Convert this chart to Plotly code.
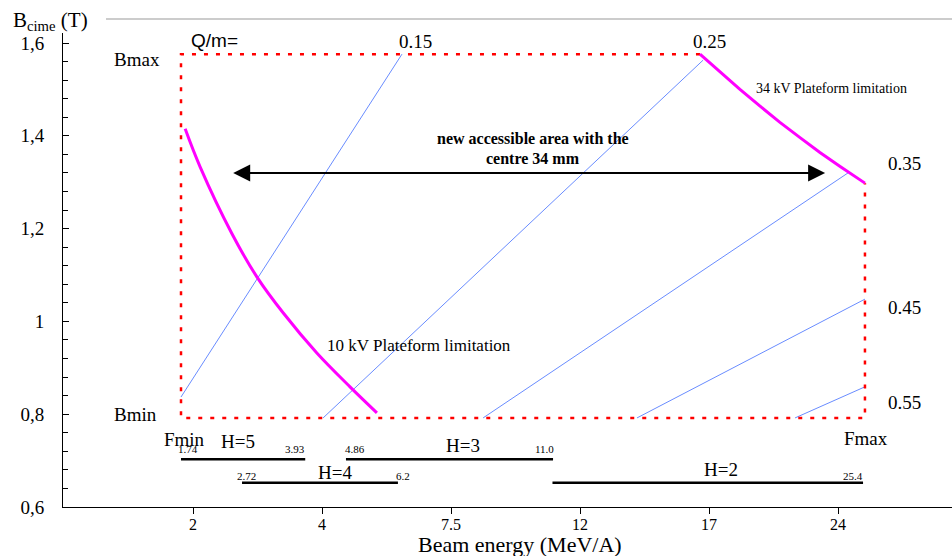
import plotly.graph_objects as go

# ---- axis scale (energy -> axis position), tick labels ----
E_KNOTS = [1.74, 2, 4, 7.5, 12, 17, 24, 25.4]
U_KNOTS = [0.907, 1, 2, 3, 4, 5, 6, 6.209]
x_tick_labels = ["2", "4", "7.5", "12", "17", "24"]
x_tick_energies = [2, 4, 7.5, 12, 17, 24]


def e2u(E):
    if isinstance(E, (list, tuple)):
        return [e2u(v) for v in E]
    for i in range(len(E_KNOTS) - 1):
        e0, e1 = E_KNOTS[i], E_KNOTS[i + 1]
        if E <= e1 or i == len(E_KNOTS) - 2:
            u0, u1 = U_KNOTS[i], U_KNOTS[i + 1]
            return u0 + (E - e0) * (u1 - u0) / (e1 - e0)


# ---- data ----
qm_labels = ["0.15", "0.25", "0.35", "0.45", "0.55"]
qm_E_start = [1.74, 4.03, 8.62, 14.21, 21.67]
qm_B_start = [0.837, 0.792, 0.792, 0.792, 0.792]
qm_E_end = [6.17, 16.77, 24.52, 25.4, 25.4]
qm_B_end = [1.576, 1.563, 1.320, 1.048, 0.859]

E_min, E_max = 1.74, 25.4
B_min, B_max = 0.792, 1.576

lim34_E = [16.65, 17.60, 18.68, 19.77, 20.85, 21.94, 23.02, 24.11, 25.4]
lim34_B = [1.576, 1.537, 1.500, 1.464, 1.429, 1.396, 1.364, 1.334, 1.298]

lim10_E = [1.83, 2.11, 2.60, 2.99, 3.40, 3.92, 4.76, 5.49]
lim10_B = [1.415, 1.333, 1.19, 1.096, 1.018, 0.932, 0.859, 0.803]

harm_labels = ["H=5", "H=4", "H=3", "H=2"]
harm_E_start = [1.74, 2.76, 4.65, 11.04]
harm_E_end = [3.74, 6.06, 11.06, 25.3]
harm_B = [0.703, 0.652, 0.703, 0.652]

arrow_E = [2.60, 23.30]
arrow_B = 1.320

SERIF = "Liberation Serif"
SANS = "Liberation Sans"

fig = go.Figure()

# Q/m lines
for i in range(len(qm_labels)):
    fig.add_trace(go.Scatter(
        x=e2u([qm_E_start[i], qm_E_end[i]]), y=[qm_B_start[i], qm_B_end[i]],
        mode="lines", line=dict(color="rgb(105,140,255)", width=1),
        showlegend=False, hoverinfo="skip"))

# red dotted boundary
fig.add_trace(go.Scatter(
    x=e2u([lim34_E[0], E_min, E_min, E_max, E_max]),
    y=[B_max, B_max, B_min, B_min, lim34_B[-1]],
    mode="lines", line=dict(color="red", width=2.5, dash="4px,8px"),
    showlegend=False, hoverinfo="skip"))

# magenta limitations
fig.add_trace(go.Scatter(x=e2u(lim34_E), y=lim34_B, mode="lines",
                         line=dict(color="#ff00ff", width=3),
                         showlegend=False, hoverinfo="skip"))
fig.add_trace(go.Scatter(x=e2u(lim10_E), y=lim10_B, mode="lines",
                         line=dict(color="#ff00ff", width=3, shape="spline"),
                         showlegend=False, hoverinfo="skip"))

# harmonic bars
for i in range(len(harm_labels)):
    fig.add_trace(go.Scatter(
        x=e2u([harm_E_start[i], harm_E_end[i]]), y=[harm_B[i], harm_B[i]],
        mode="lines", line=dict(color="black", width=2.5),
        showlegend=False, hoverinfo="skip"))

# ---- annotations (positioned in pixels, converted to paper) ----
L, T, W, H = 63, 33, 889, 474


def px(x):
    return (x - L) / W


def py(y):
    return (T + H - y) / H


anns = []


def text(t, x, y, size, font=SERIF, xanchor="center", bold=False):
    if bold:
        t = "<b>" + t + "</b>"
    anns.append(dict(text=t, x=px(x), y=py(y), xref="paper", yref="paper",
                     xanchor=xanchor, yanchor="middle", showarrow=False,
                     font=dict(family=font, size=size, color="black")))


text("B<sub>cime</sub> (T)", 11, 21, 21, xanchor="left")
text("Q/m=", 214, 40, 19, font=SANS)
text("0.15", 415, 42, 19)
text("0.25", 709, 42, 19)
text("0.35", 904, 163, 19)
text("0.45", 904, 307, 19)
text("0.55", 904, 402, 19)
text("Bmax", 137, 60, 19)
text("Bmin", 135, 414, 19)
text("Fmin", 184, 439, 19)
text("Fmax", 866, 438, 19)
text("H=5", 238, 441, 19)
text("H=4", 335, 472, 19)
text("H=3", 463, 445, 19)
text("H=2", 721, 469, 19)
text("1.74", 188, 449, 11)
text("3.93", 295, 449, 11)
text("4.86", 355, 449, 11)
text("2.72", 246, 476, 11)
text("6.2", 403, 476, 11)
text("11.0", 544, 449, 11)
text("25.4", 853, 476, 11)
text("10 kV Plateform limitation", 419, 345, 17)
text("34 kV Plateform limitation", 831, 88, 14)
text("new accessible area with the", 533, 138, 16, bold=True)
text("centre 34 mm", 533, 158, 16, bold=True)
text("Beam energy (MeV/A)", 520, 544, 22)

# double-headed arrow
anns.append(dict(x=e2u(arrow_E[1]), y=arrow_B, ax=e2u(arrow_E[0]), ay=arrow_B,
                 xref="x", yref="y", axref="x", ayref="y", text="",
                 showarrow=True, arrowhead=2, startarrowhead=2,
                 arrowside="end+start", arrowsize=1.7, startarrowsize=1.7,
                 arrowwidth=2, arrowcolor="black"))

fig.update_layout(
    width=952, height=556,
    margin=dict(l=L, r=0, t=T, b=556 - T - H, pad=0),
    paper_bgcolor="white", plot_bgcolor="white",
    separators=",.",
    annotations=anns,
    shapes=[dict(type="line", xref="paper", yref="paper",
                 x0=px(106), x1=1, y0=py(19), y1=py(19),
                 line=dict(color="#999999", width=1))],
    xaxis=dict(range=[1 + (L - 193) / 129, 1 + (952 - 193) / 129],
               tickmode="array", tickvals=e2u(x_tick_energies),
               ticktext=x_tick_labels, ticks="outside", ticklen=6,
               tickcolor="black", showline=True, linecolor="black",
               linewidth=1, showgrid=False, zeroline=False,
               tickfont=dict(family=SERIF, size=16, color="black"),
               ticklabelstandoff=-3),
    yaxis=dict(range=[0.6, 0.6 + H / 464], tickmode="linear", tick0=0.6,
               dtick=0.2, ticks="inside", ticklen=6, tickcolor="black",
               minor=dict(dtick=0.04, tick0=0.6, ticks="inside", ticklen=5,
                          tickcolor="black"),
               showline=True, linecolor="black", linewidth=1,
               showgrid=False, zeroline=False,
               tickfont=dict(family=SERIF, size=19, color="black"),
               ticklabelstandoff=14),
)

fig.write_html("out.html")
